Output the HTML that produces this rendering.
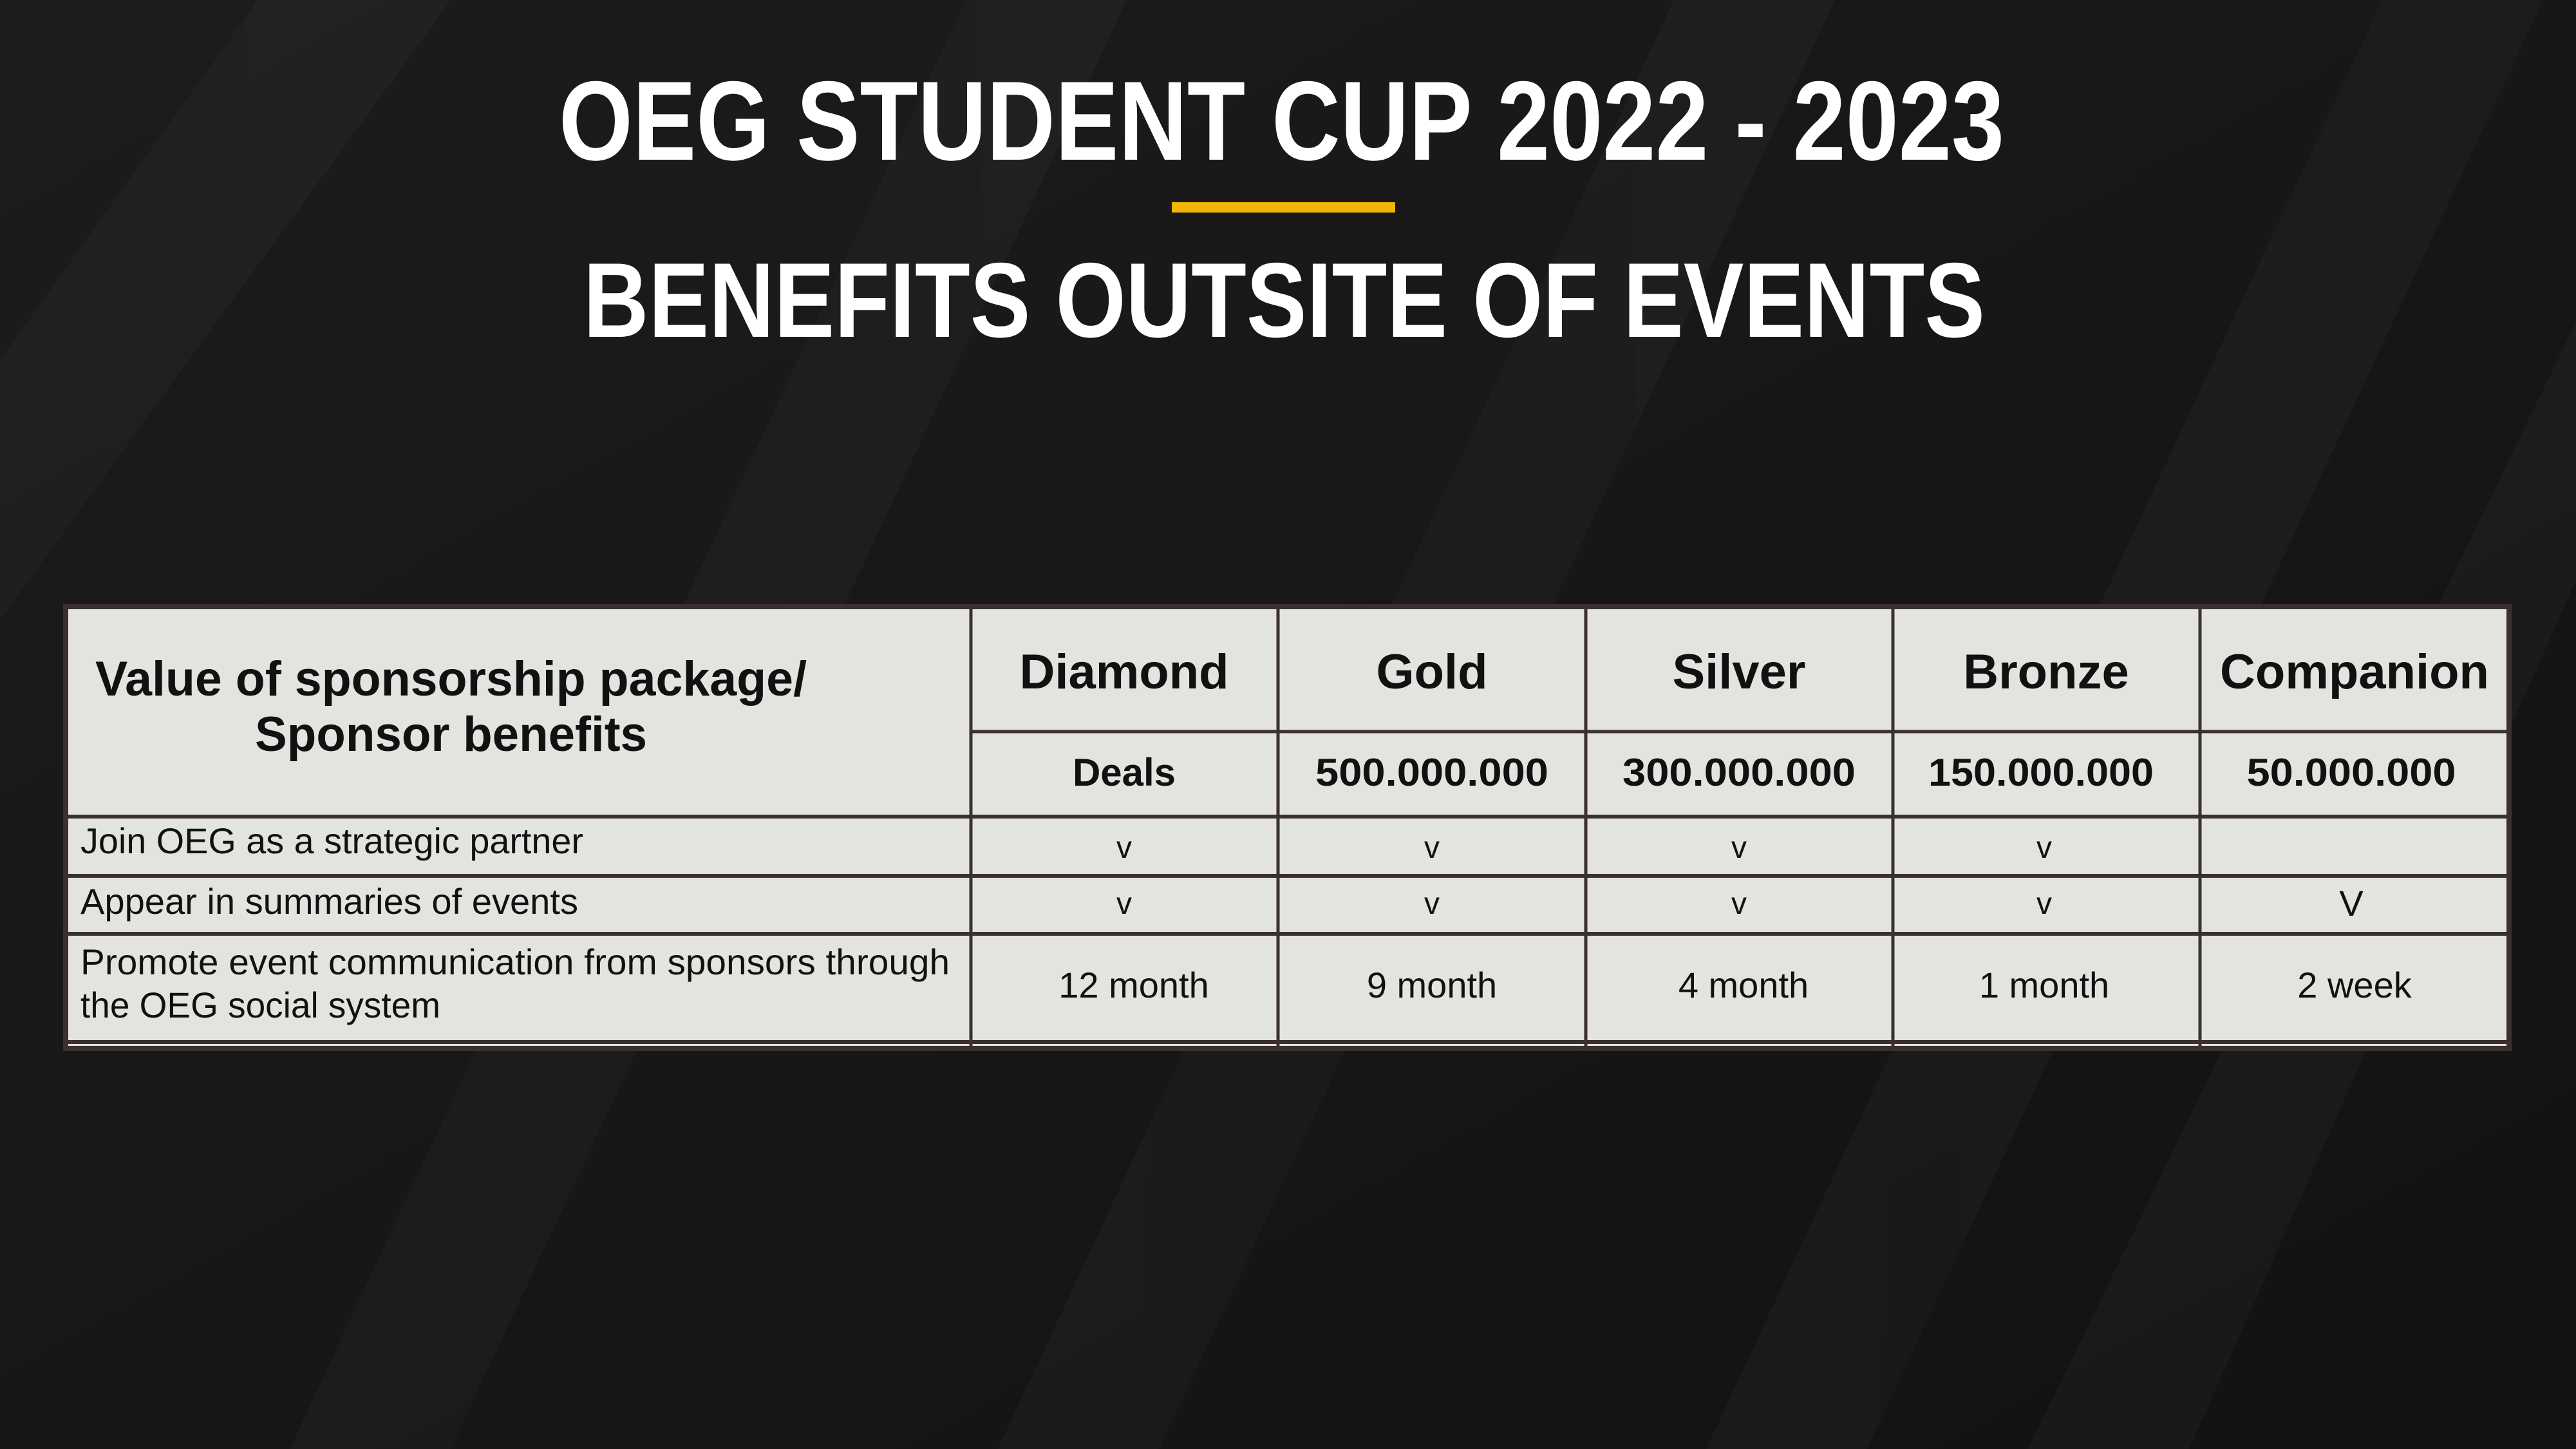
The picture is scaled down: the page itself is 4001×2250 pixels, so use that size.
<!DOCTYPE html>
<html><head><meta charset="utf-8"><style>
html,body{margin:0;padding:0;background:#141414;}
svg{display:block}
text{font-family:"Liberation Sans",sans-serif;fill:#111}
</style></head><body>
<svg width="4001" height="2250" viewBox="0 0 4001 2250" xmlns="http://www.w3.org/2000/svg">
<defs>
<linearGradient id="bg" x1="0" y1="0" x2="1" y2="1">
<stop offset="0" stop-color="#1c1c1c"/><stop offset="1" stop-color="#121212"/>
</linearGradient>
</defs>
<rect width="4001" height="2250" fill="url(#bg)"/>
<g fill="#ffffff" opacity="0.025">
<polygon points="400,0 700,0 -100,1100 -100,700"/>
<polygon points="1500,0 1750,0 700,2250 450,2250"/>
<polygon points="2600,0 2850,0 1800,2250 1550,2250"/>
<polygon points="3700,0 3950,0 2900,2250 2650,2250"/>
<polygon points="4001,500 4001,900 3400,2250 3150,2250"/>
</g>
<text x="868" y="248" textLength="2245" lengthAdjust="spacingAndGlyphs" font-size="175" font-weight="bold" style="fill:#fff">OEG STUDENT CUP 2022 - 2023</text>
<rect x="1820" y="314" width="347" height="16" fill="#f2b705"/>
<text x="906" y="523" textLength="2177" lengthAdjust="spacingAndGlyphs" font-size="165" font-weight="bold" style="fill:#fff">BENEFITS OUTSITE OF EVENTS</text>

<g>
<rect x="102" y="942" width="3795" height="686" fill="#e3e3df"/>
<g stroke="#3a3030" fill="none">
<rect x="102" y="942" width="3795" height="686" stroke-width="8"/>
<line x1="1508" y1="942" x2="1508" y2="1628" stroke-width="5"/>
<line x1="1985" y1="942" x2="1985" y2="1628" stroke-width="5"/>
<line x1="2463" y1="942" x2="2463" y2="1628" stroke-width="5"/>
<line x1="2940" y1="942" x2="2940" y2="1628" stroke-width="5"/>
<line x1="3417" y1="942" x2="3417" y2="1628" stroke-width="5"/>
<line x1="1508" y1="1136" x2="3897" y2="1136" stroke-width="5"/>
<line x1="102" y1="1268" x2="3897" y2="1268" stroke-width="6"/>
<line x1="102" y1="1360" x2="3897" y2="1360" stroke-width="6"/>
<line x1="102" y1="1450" x2="3897" y2="1450" stroke-width="6"/>
<line x1="102" y1="1618" x2="3897" y2="1618" stroke-width="6"/>
</g>
<text x="148" y="1080" textLength="1105" lengthAdjust="spacingAndGlyphs" font-size="76" font-weight="bold">Value of sponsorship package/</text>
<text x="396" y="1166" textLength="609" lengthAdjust="spacingAndGlyphs" font-size="76" font-weight="bold">Sponsor benefits</text>
<g font-weight="bold" font-size="76" text-anchor="middle">
<text x="1746" y="1069">Diamond</text>
<text x="2224" y="1069">Gold</text>
<text x="2701" y="1069">Silver</text>
<text x="3178" y="1069">Bronze</text>
<text x="3657" y="1069">Companion</text>
</g>
<g font-weight="bold" font-size="60" text-anchor="middle">
<text x="1746" y="1220">Deals</text>
<text x="2224" y="1220" textLength="362" lengthAdjust="spacingAndGlyphs">500.000.000</text>
<text x="2701" y="1220" textLength="362" lengthAdjust="spacingAndGlyphs">300.000.000</text>
<text x="3170" y="1220" textLength="350" lengthAdjust="spacingAndGlyphs">150.000.000</text>
<text x="3652" y="1220" textLength="325" lengthAdjust="spacingAndGlyphs">50.000.000</text>
</g>
<g font-size="56">
<text x="125" y="1325" textLength="781" lengthAdjust="spacingAndGlyphs">Join OEG as a strategic partner</text>
<text x="125" y="1419" textLength="773" lengthAdjust="spacingAndGlyphs">Appear in summaries of events</text>
<text x="125" y="1513" textLength="1350" lengthAdjust="spacingAndGlyphs">Promote event communication from sponsors through</text>
<text x="125" y="1580" textLength="559" lengthAdjust="spacingAndGlyphs">the OEG social system</text>
</g>
<g font-size="48" text-anchor="middle" style="fill:#2a1a14">
<text x="1746" y="1332">v</text>
<text x="2224" y="1332">v</text>
<text x="2701" y="1332">v</text>
<text x="3175" y="1332">v</text>
<text x="1746" y="1419">v</text>
<text x="2224" y="1419">v</text>
<text x="2701" y="1419">v</text>
<text x="3175" y="1419">v</text>
<text x="3652" y="1422" font-size="56">V</text>
</g>
<g font-size="56" text-anchor="middle">
<text x="1761" y="1549">12 month</text>
<text x="2224" y="1549">9 month</text>
<text x="2708" y="1549">4 month</text>
<text x="3175" y="1549">1 month</text>
<text x="3657" y="1549">2 week</text>
</g>
</g>
</svg>
</body></html>
